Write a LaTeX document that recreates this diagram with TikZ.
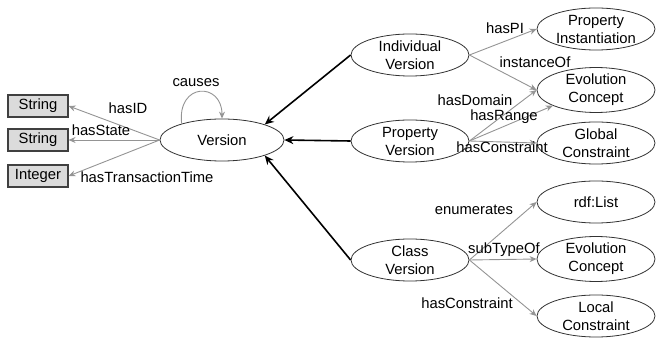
\documentclass[tikz,border=0pt]{standalone}
\usepackage{fontspec}
\setmainfont{Liberation Sans}
\usetikzlibrary{arrows.meta,shapes.geometric}
\begin{document}
\begin{tikzpicture}[x=1pt,y=-1pt,
  every node/.style={font=\fontsize{14.8}{18}\selectfont},
  ell/.style={draw=black!80, line width=0.8pt, ellipse, fill=white, minimum width=118pt, minimum height=42pt, inner sep=0pt, align=center},
  lit/.style={draw=black!75, line width=1.1pt, fill=black!14, minimum width=60pt, minimum height=22pt, inner sep=0pt},
  boldarrow/.style={line width=1.6pt, -{Stealth[length=9pt,width=8pt]}},
  garrow/.style={draw=black!42, line width=0.9pt, -{Stealth[length=7pt,width=6pt]}},
  lbl/.style={inner sep=0pt}
]
\useasboundingbox (0,0) rectangle (657,339);
% literal boxes
\node[lit] (s1) at (38,106) {String};
\node[lit] (s2) at (38,140) {String};
\node[lit] (int) at (38,176) {Integer};
% ellipses
\node[ell, minimum width=124pt] (ver) at (222,140) {Version};
\node[ell] (iv) at (410,55) {Individual\\Version};
\node[ell] (pv) at (410,141) {Property\\Version};
\node[ell] (cv) at (410,260) {Class\\Version};
\node[ell] (pi) at (596,29) {Property\\Instantiation};
\node[ell] (ec1) at (596,90) {Evolution\\Concept};
\node[ell] (gc) at (596,143) {Global\\Constraint};
\node[ell] (rl) at (596,202) {rdf:List};
\node[ell] (ec2) at (596,259) {Evolution\\Concept};
\node[ell] (lc) at (596,316) {Local\\Constraint};
% bold arrows
\draw[boldarrow] (iv.west) -- (ver.20);
\draw[boldarrow] (pv.west) -- (ver.east);
\draw[boldarrow] (cv.west) -- (ver.-20);
% version properties
\draw[garrow] (ver.west) -- (s1.east);
\draw[garrow] (ver.west) -- (s2.east);
\draw[garrow] (ver.west) -- (int.east);
\draw[garrow] (ver.158) .. controls (177,82) and (222,82) .. (ver.north);
\node[lbl] (lcauses) at (196,83) {causes};
\node[lbl] (lhasid) at (128,108) {hasID};
\node[lbl] (lhasstate) at (101,130) {hasState};
\node[lbl] (lhtt) at (147,177) {hasTransactionTime};
% individual version
\draw[garrow] (iv.east) -- (pi.west);
\draw[garrow] (iv.east) -- (ec1.west);
\node[lbl] (lhaspi) at (505,28) {hasPI};
\node[lbl] (linst) at (535,62) {instanceOf};
% property version
\draw[garrow] (pv.east) -- (ec1.west);
\draw[garrow] (pv.east) -- (ec1.200);
\draw[garrow] (pv.east) -- (gc.west);
\node[lbl] (lhasdom) at (475,100) {hasDomain};
\node[lbl] (lhasrange) at (504,117) {hasRange};
\node[lbl] (lhascon1) at (502,147) {hasConstraint};
% class version
\draw[garrow] (cv.east) -- (rl.west);
\draw[garrow] (cv.east) -- (ec2.west);
\draw[garrow] (cv.east) -- (lc.west);
\node[lbl] (lenum) at (474,210) {enumerates};
\node[lbl] (lsub) at (504,250) {subTypeOf};
\node[lbl] (lhascon2) at (467,303) {hasConstraint};
\end{tikzpicture}
\end{document}
